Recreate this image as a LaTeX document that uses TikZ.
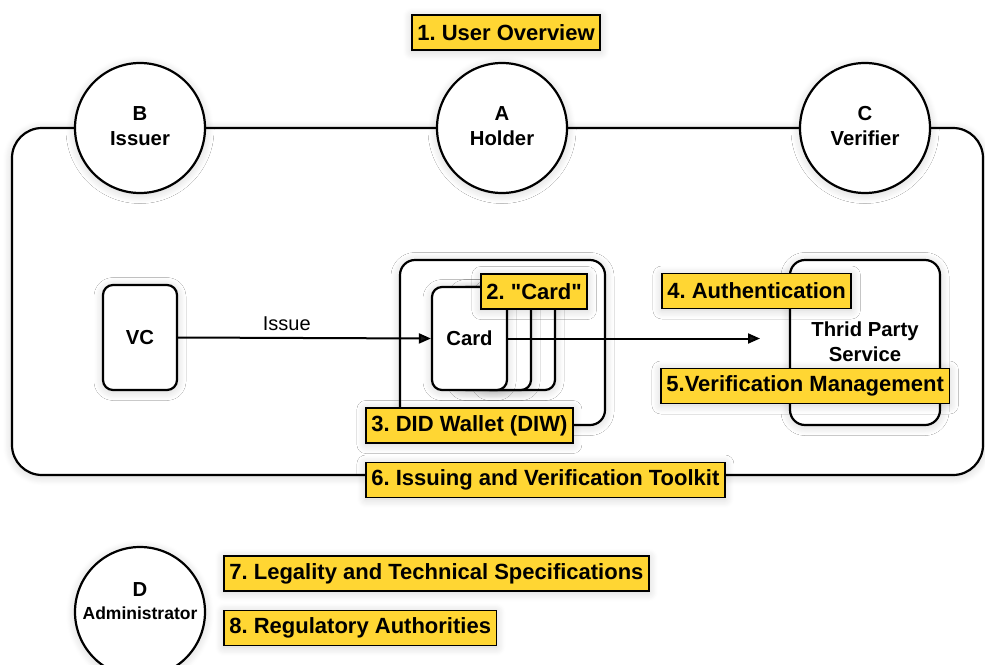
\documentclass[tikz,border=0pt]{standalone}
\usepackage{fontspec}
\setmainfont{Liberation Sans}[Ligatures=TeXOff]
\frenchspacing
\usetikzlibrary{arrows.meta,shadows.blur}
\definecolor{tagyellow}{RGB}{255,214,51}
\tikzset{
  soft/.style={blur shadow={shadow xshift=0pt,shadow yshift=-1.5pt,shadow blur radius=9pt,shadow blur steps=20,shadow opacity=18}},
  outline/.style={draw=black,line width=2.2pt,fill=white},
  actor/.style={outline,soft,circle,minimum size=130pt,inner sep=0pt,align=center,
    font=\bfseries\fontsize{20.3}{25}\selectfont},
  panel/.style={outline,soft,rectangle,rounded corners=#1,inner sep=0pt,align=center},
  tag/.style={draw=black,line width=1.8pt,fill=tagyellow,soft,anchor=west,
    minimum height=35pt,inner xsep=5.5pt,inner ysep=0pt,
    font=\bfseries\fontsize{22}{24}\selectfont},
  flow/.style={line width=2pt,-{Triangle[length=12pt,width=10pt]}},
  caption/.style={align=center,font=\bfseries\fontsize{20.3}{25}\selectfont}
}
\begin{document}
\begin{tikzpicture}[x=1pt,y=-1pt]
\useasboundingbox (0,0) rectangle (985,664);

% toolkit frame
\draw[outline,soft,rounded corners=30pt] (12,128) rectangle (983,475);

% actors
\node[actor] (issuer) at (140,128) {};
\node[actor] (holder) at (502,128) {};
\node[actor] (verifier) at (865,128) {};
\node[caption] (issuertext) at (140,126) {B\\Issuer};
\node[caption] (holdertext) at (502,126) {A\\Holder};
\node[caption] (verifiertext) at (865,126) {C\\Verifier};
\node[actor] (admin) at (140,612) {};
\node[align=center,font=\bfseries\fontsize{20.3}{23}\selectfont] (admintext) at (140,601)
  {D\\{\fontsize{17.5}{20}\selectfont Administrator}};

% credential
\node[panel=10pt,minimum width=74pt,minimum height=105pt,font=\bfseries\fontsize{20.3}{24}\selectfont] (vc) at (140,337.5) {VC};

% wallet
\node[panel=15pt,minimum width=205pt,minimum height=165pt] (wallet) at (502.5,342.5) {};

% stacked cards
\node[panel=10pt,minimum width=75pt,minimum height=103pt] (card3) at (517.5,338.5) {};
\node[panel=10pt,minimum width=75pt,minimum height=103pt] (card2) at (493.5,338.5) {};
\node[panel=10pt,minimum width=75pt,minimum height=103pt,font=\bfseries\fontsize{20.3}{24}\selectfont] (card) at (469.5,338.5) {Card};

% third party service
\node[panel=15pt,minimum width=150pt,minimum height=165pt] (tps) at (865,342.5) {};
\node[caption] (tpstext) at (865,342) {Thrid Party\\Service};

% flows
\coordinate (authin) at (760,338.5);
\draw[flow] (vc.east) -- node[pos=0.43,above=3pt,font=\fontsize{20}{24}\selectfont] (issue) {Issue} (card.west);
\draw[flow] (card.east) -- (authin);

% numbered tags
\node[tag] (t1) at (411,32.5) {1. User Overview};
\node[tag] (t2) at (480,291.5) {2. "Card"};
\node[tag] (t3) at (365,425.5) {3. DID Wallet (DIW)};
\node[tag] (t4) at (661,291) {4. Authentication};
\node[tag] (t5) at (660,386) {5.Verification Management};
\node[tag] (t6) at (365,480) {6. Issuing and Verification Toolkit};
\node[tag] (t7) at (223,573.5) {7. Legality and Technical Specifications};
\node[tag] (t8) at (223,628) {8. Regulatory Authorities};
\end{tikzpicture}
\end{document}
